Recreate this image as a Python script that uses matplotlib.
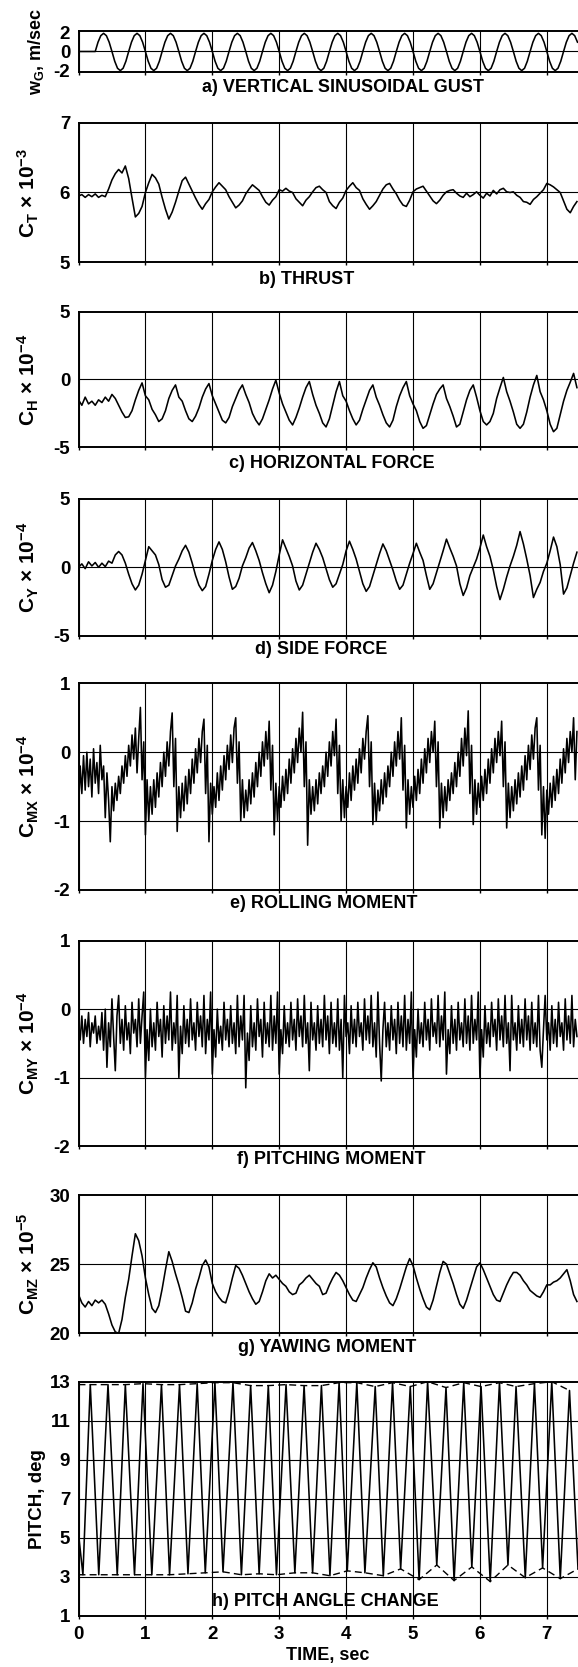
import numpy as np
import matplotlib
matplotlib.use('Agg')
import matplotlib.pyplot as plt

plt.rcParams['font.family'] = ['Liberation Sans', 'DejaVu Sans']
plt.rcParams['font.weight'] = 'bold'
plt.rcParams['font.size'] = 13
plt.rcParams['axes.unicode_minus'] = False
plt.rcParams['mathtext.fontset'] = 'custom'
plt.rcParams['mathtext.rm'] = 'Liberation Sans:bold'
plt.rcParams['mathtext.it'] = 'Liberation Sans:bold'
plt.rcParams['mathtext.bf'] = 'Liberation Sans:bold'
plt.rcParams['mathtext.sf'] = 'Liberation Sans:bold'

# ---- data ----

# a) gust, sampled every 1/24 s
GUST_DT = 1 / 24
GUST = [0, 0, 0, 0, 0, 0,
        0, 1.0, 1.7, 1.95, 1.7, 1.0, 0, -1.05, -1.8, -2.05, -1.8, -1.05,
        0, 1.0, 1.7, 1.95, 1.7, 1.0, 0, -1.05, -1.8, -2.05, -1.8, -1.05,
        0, 1.0, 1.7, 1.95, 1.7, 1.0, 0, -1.05, -1.8, -2.05, -1.8, -1.05,
        0, 1.0, 1.7, 1.95, 1.7, 1.0, 0, -1.05, -1.8, -2.05, -1.8, -1.05,
        0, 1.0, 1.7, 1.95, 1.7, 1.0, 0, -1.05, -1.8, -2.05, -1.8, -1.05,
        0, 1.0, 1.7, 1.95, 1.7, 1.0, 0, -1.05, -1.8, -2.05, -1.8, -1.05,
        0, 1.0, 1.7, 1.95, 1.7, 1.0, 0, -1.05, -1.8, -2.05, -1.8, -1.05,
        0, 1.0, 1.7, 1.95, 1.7, 1.0, 0, -1.05, -1.8, -2.05, -1.8, -1.05,
        0, 1.0, 1.7, 1.95, 1.7, 1.0, 0, -1.05, -1.8, -2.05, -1.8, -1.05,
        0, 1.0, 1.7, 1.95, 1.7, 1.0, 0, -1.05, -1.8, -2.05, -1.8, -1.05,
        0, 1.0, 1.7, 1.95, 1.7, 1.0, 0, -1.05, -1.8, -2.05, -1.8, -1.05,
        0, 1.0, 1.7, 1.95, 1.7, 1.0, 0, -1.05, -1.8, -2.05, -1.8, -1.05,
        0, 1.0, 1.7, 1.95, 1.7, 1.0, 0, -1.05, -1.8, -2.05, -1.8, -1.05,
        0, 1.0, 1.7, 1.95, 1.7, 1.0, 0, -1.05, -1.8, -2.05, -1.8, -1.05,
        0, 1.0, 1.7, 1.95, 1.7, 1.0]

# b) thrust, every 0.05 s
THRUST_DT = 0.05
THRUST = [5.95, 5.97, 5.93, 5.97, 5.94, 5.98, 5.93, 5.96, 5.94, 6.05,
          6.18, 6.27, 6.33, 6.28, 6.38, 6.20, 5.92, 5.65, 5.70, 5.80,
          6.00, 6.14, 6.26, 6.21, 6.12, 5.93, 5.76, 5.62, 5.72, 5.86,
          6.02, 6.17, 6.22, 6.12, 6.02, 5.92, 5.83, 5.76, 5.84, 5.90,
          6.01, 6.08, 6.14, 6.09, 6.04, 5.94, 5.86, 5.78, 5.82, 5.88,
          5.98, 6.05, 6.11, 6.07, 6.03, 5.94, 5.86, 5.82, 5.89, 5.94,
          6.04, 6.02, 6.06, 6.02, 6.00, 5.91, 5.86, 5.81, 5.89, 5.94,
          6.01, 6.07, 6.09, 6.04, 6.00, 5.87, 5.81, 5.77, 5.86, 5.92,
          6.03, 6.09, 6.14, 6.07, 6.03, 5.91, 5.83, 5.76, 5.81, 5.87,
          5.96, 6.05, 6.11, 6.13, 6.05, 5.98, 5.89, 5.82, 5.80, 5.89,
          6.01, 6.05, 6.07, 6.09, 6.02, 5.95, 5.88, 5.84, 5.89, 5.96,
          6.01, 6.03, 6.04, 5.99, 5.95, 5.93, 5.99, 5.94, 5.97, 6.01,
          5.96, 5.92, 5.99, 5.95, 6.03, 5.98, 6.04, 6.06, 6.01, 6.00,
          6.01, 5.96, 5.93, 5.87, 5.86, 5.83, 5.90, 5.94, 5.99, 6.04,
          6.13, 6.11, 6.08, 6.04, 6.00, 5.88, 5.76, 5.71, 5.80, 5.87]

# c) horizontal force, every 0.05 s
HFORCE_DT = 0.05
HFORCE = [-1.5, -1.9, -1.3, -1.8, -1.6, -1.9, -1.5, -1.7, -1.3, -1.6,
          -1.1, -1.4, -1.9, -2.4, -2.8, -2.75, -2.3, -1.5, -0.8, -0.25,
          -1.2, -1.5, -2.2, -2.6, -3.1, -2.9, -2.3, -1.4, -0.8, -0.4,
          -1.3, -1.6, -2.3, -2.9, -3.1, -2.7, -2.1, -1.3, -0.7, -0.3,
          -1.2, -1.8, -2.4, -3.0, -3.2, -2.8, -2.0, -1.4, -0.8, -0.4,
          -1.1, -1.7, -2.5, -3.0, -3.35, -2.9, -2.2, -1.5, -0.7, -0.05,
          -1.0, -1.8, -2.4, -3.0, -3.35, -2.8, -2.1, -1.3, -0.6, -0.15,
          -1.1, -1.9, -2.5, -3.2, -3.5, -2.9, -1.9, -0.9, -0.15,
          -1.2, -1.6, -2.3, -2.9, -3.35, -3.0, -2.2, -1.5, -0.8, -0.4,
          -1.3, -1.9, -2.6, -3.2, -3.5, -3.0, -2.0, -1.2, -0.6, -0.15,
          -1.2, -1.8, -2.3, -3.1, -3.6, -3.4, -2.6, -1.8, -1.1, -0.7, -0.4,
          -1.4, -2.0, -2.7, -3.5, -3.3, -2.4, -1.5, -0.8, -0.4,
          -1.3, -2.3, -3.1, -3.35, -3.1, -2.5, -1.4, -0.6, 0.15,
          -0.9, -1.6, -2.4, -3.3, -3.6, -3.3, -2.4, -1.3, -0.4, 0.3,
          -0.9, -1.5, -2.3, -3.3, -3.85, -3.6, -2.6, -1.6, -0.8, -0.2, 0.45,
          -0.6]

# d) side force, every 0.05 s
SFORCE_DT = 0.05
SFORCE = [0.0, 0.25, -0.1, 0.4, 0.1, 0.35, 0.0, 0.3, 0.05, 0.45,
          0.3, 0.9, 1.15, 0.9, 0.3, -0.5, -1.2, -1.65, -1.3, -0.5,
          0.5, 1.5, 1.2, 0.9, 0.2, -0.9, -1.45, -1.3, -0.6, 0.1,
          0.6, 1.2, 1.6, 1.1, 0.3, -0.6, -1.3, -1.7, -1.4, -0.5,
          0.5, 1.3, 1.85, 1.3, 0.4, -0.7, -1.6, -1.4, -0.8, 0.1,
          0.7, 1.4, 1.8, 1.2, 0.5, -0.4, -1.2, -1.85, -1.3, -0.3,
          0.9, 2.0, 1.4, 0.8, 0.1, -1.0, -1.65, -1.3, -0.5, 0.3,
          1.1, 1.75, 1.3, 0.7, -0.1, -0.9, -1.45, -1.2, -0.5, 0.2,
          1.2, 1.9, 1.3, 0.6, -0.3, -1.2, -1.75, -1.4, -0.6, 0.2,
          1.0, 1.7, 1.2, 0.5, -0.2, -1.0, -1.6, -1.3, -0.5, 0.3,
          1.0, 1.75, 1.1, 0.5, -0.6, -1.6, -1.2, -0.4, 0.4, 1.2,
          2.05, 1.4, 0.8, 0.1, -1.2, -2.05, -1.5, -0.6, 0.0, 0.6,
          1.4, 2.35, 1.5, 0.8, -0.2, -1.4, -2.35, -1.6, -0.7, 0.1,
          0.8, 1.6, 2.6, 1.7, 0.6, -0.6, -2.2, -1.6, -1.1, -0.3,
          0.3, 1.2, 2.2, 1.5, 0.2, -1.95, -1.5, -0.6, 0.3, 1.1]

# e) rolling moment, every 0.025 s
ROLL_DT = 0.025
ROLL = [-0.85, -0.2, -0.6, -0.05, -0.55, 0.0, -0.5, -0.1, -0.65, 0.05,
        -0.45, -0.15, -0.6, 0.1, -0.4, -0.2, -0.95, -0.3, -0.7, -1.3,
        -0.5, -0.85, -0.45, -0.7, -0.35, -0.6, -0.2, -0.45, -0.05, -0.35,
        0.1, -0.2, 0.25, -0.1, 0.35, -0.3, 0.2, 0.65,
        -0.4, 0.15, -1.2, -0.4, -1.0, -0.5, -0.9, -0.4, -0.8, -0.3,
        -0.65, -0.15, -0.5, 0.0, -0.35, 0.15, -0.2, 0.3, 0.57,
        -0.5, 0.2, -1.15, -0.5, -0.95, -0.45, -0.85, -0.35, -0.75, -0.25,
        -0.6, -0.1, -0.45, 0.05, -0.3, 0.2, -0.15, 0.3, 0.48,
        -0.6, 0.1, -1.3, -0.45, -0.9, -0.5, -0.8, -0.3, -0.7, -0.2,
        -0.55, -0.05, -0.4, 0.1, -0.25, 0.25, -0.15, 0.35, 0.5,
        -0.45, 0.15, -1.0, -0.4, -0.95, -0.55, -0.85, -0.4, -0.75, -0.3,
        -0.65, -0.15, -0.5, 0.0, -0.35, 0.15, -0.2, 0.3, -0.1, 0.45,
        -0.55, 0.1, -1.2, -0.45, -1.0, -0.5, -0.8, -0.35, -0.7, -0.25,
        -0.6, -0.1, -0.45, 0.05, -0.3, 0.2, -0.15, 0.35, 0.0, 0.58,
        -0.5, 0.15, -1.35, -0.4, -0.9, -0.5, -0.85, -0.4, -0.75, -0.3,
        -0.6, -0.2, -0.5, 0.0, -0.35, 0.15, -0.2, 0.3, -0.05, 0.48,
        -0.6, 0.1, -1.0, -0.4, -0.95, -0.5, -0.8, -0.3, -0.7, -0.2,
        -0.55, -0.1, -0.45, 0.05, -0.3, 0.2, -0.1, 0.3, 0.53,
        -0.5, 0.15, -1.05, -0.45, -1.0, -0.55, -0.85, -0.4, -0.75, -0.3,
        -0.65, -0.2, -0.5, 0.0, -0.35, 0.15, -0.2, 0.3, -0.1, 0.5,
        -0.55, 0.1, -1.1, -0.4, -0.9, -0.5, -0.8, -0.35, -0.7, -0.25,
        -0.6, -0.1, -0.45, 0.05, -0.3, 0.2, -0.15, 0.3, 0.0, 0.45,
        -0.5, 0.15, -1.1, -0.45, -0.95, -0.5, -0.85, -0.4, -0.7, -0.3,
        -0.6, -0.15, -0.5, 0.0, -0.35, 0.2, -0.2, 0.35, -0.05, 0.6,
        -0.6, 0.1, -1.05, -0.4, -0.9, -0.45, -0.8, -0.35, -0.7, -0.25,
        -0.6, -0.1, -0.45, 0.05, -0.3, 0.2, -0.15, 0.3, -0.05, 0.45,
        -0.5, 0.15, -1.1, -0.45, -0.95, -0.5, -0.85, -0.4, -0.75, -0.3,
        -0.65, -0.2, -0.55, -0.05, -0.4, 0.1, -0.25, 0.25, -0.1, 0.35, 0.5,
        -0.55, 0.1, -1.2, -0.5, -1.25, -0.55, -0.9, -0.45, -0.8, -0.35,
        -0.7, -0.25, -0.6, -0.1, -0.45, 0.05, -0.3, 0.2, -0.15, 0.3, 0.0, 0.5,
        -0.4, 0.3]

# f) pitching moment, every 0.025 s
PITCHM_DT = 0.025
PITCHM = [-0.2, -0.45, -0.1, -0.5, -0.15, -0.4, -0.05, -0.55, -0.2, -0.35,
          -0.1, -0.5, -0.25, -0.45, -0.05, -0.6, 0.0, -0.85, -0.2, -0.55,
          0.15, -0.4, -0.9, -0.1, 0.2, -0.5, -0.15, -0.6, 0.05, -0.45,
          -0.2, -0.65, 0.1, -0.35, -0.15, -0.55, 0.15, -0.5, -0.1, 0.25,
          -1.0, -0.3, -0.75, 0.0, -0.55, -0.2, -0.6, 0.1, -0.4, -0.15,
          -0.7, 0.05, -0.5, -0.1, -0.45, 0.25, -0.6, -0.2, -0.5, 0.2,
          -1.0, -0.25, -0.65, 0.05, -0.5, -0.15, -0.55, 0.15, -0.45, -0.2,
          -0.6, 0.1, -0.4, -0.1, -0.55, 0.2, -0.65, -0.15, -0.45, 0.25,
          -0.95, -0.3, -0.7, 0.0, -0.5, -0.25, -0.6, 0.1, -0.45, -0.15,
          -0.55, 0.05, -0.5, -0.2, -0.65, 0.2, -0.55, -0.1, -0.45, 0.2,
          -1.15, -0.35, -0.75, 0.05, -0.55, -0.2, -0.6, 0.15, -0.4, -0.15,
          -0.7, 0.1, -0.5, -0.2, -0.55, 0.2, -0.6, -0.1, -0.5, 0.25,
          -0.95, -0.3, -0.65, 0.05, -0.5, -0.2, -0.55, 0.1, -0.45, -0.15,
          -0.6, 0.15, -0.4, -0.1, -0.55, 0.2, -0.5, -0.2, -0.9, 0.1,
          -0.45, -0.2, -0.6, 0.05, -0.5, -0.15, -0.55, 0.2, -0.45, -0.1,
          -0.65, 0.1, -0.5, -0.2, -0.55, 0.15, -0.6, -0.15, -1.0, 0.2,
          -0.4, -0.2, -0.65, 0.05, -0.5, -0.15, -0.55, 0.1, -0.4, -0.2,
          -0.6, 0.15, -0.45, -0.1, -0.5, 0.2, -0.55, -0.2, -0.7, 0.25,
          -0.5, -1.05, -0.3, 0.1, -0.55, -0.2, -0.6, 0.05, -0.45, -0.15,
          -0.65, 0.1, -0.5, -0.1, -0.55, 0.2, -0.6, -0.15, -0.5, 0.25,
          -1.0, -0.3, -0.7, 0.0, -0.5, -0.2, -0.55, 0.1, -0.45, -0.15,
          -0.6, 0.15, -0.4, -0.2, -0.5, 0.2, -0.55, -0.1, -0.45, 0.25,
          -0.95, -0.3, -0.65, 0.05, -0.5, -0.15, -0.6, 0.1, -0.45, -0.2,
          -0.55, 0.15, -0.5, -0.1, -0.6, 0.2, -0.5, -0.15, -0.45, 0.25,
          -1.0, -0.3, -0.7, 0.05, -0.5, -0.2, -0.55, 0.1, -0.4, -0.15,
          -0.6, 0.15, -0.45, -0.1, -0.55, 0.2, -0.5, -0.2, -0.9, 0.2,
          -0.45, -0.2, -0.6, 0.05, -0.5, -0.15, -0.55, 0.15, -0.45, -0.1,
          -0.6, 0.1, -0.5, -0.2, -0.55, 0.2, -0.6, -0.85, -0.3, 0.2,
          -0.45, -0.2, -0.6, 0.05, -0.5, -0.15, -0.55, 0.1, -0.4, -0.2,
          -0.6, 0.15, -0.45, -0.1, -0.5, 0.2, -0.55, -0.15, -0.4]

# g) yawing moment, every 0.05 s
YAW_DT = 0.05
YAW = [22.8, 22.2, 21.9, 22.3, 22.0, 22.4, 22.2, 22.4, 22.1, 21.4,
       20.6, 20.1, 20.0, 21.0, 22.6, 23.9, 25.6, 27.2, 26.7, 25.6,
       24.0, 22.8, 21.8, 21.5, 22.0, 23.2, 24.6, 25.9, 25.2, 24.3,
       23.5, 22.6, 21.6, 21.5, 22.2, 23.2, 24.0, 24.9, 25.3, 24.8,
       23.6, 23.0, 22.6, 22.3, 22.2, 23.0, 24.0, 24.9, 24.7, 24.2,
       23.6, 23.0, 22.5, 22.1, 22.3, 23.0, 23.8, 24.3, 24.0, 24.2,
       23.9, 23.6, 23.4, 23.0, 22.8, 22.9, 23.5, 23.7, 24.0, 24.2,
       23.9, 23.6, 23.4, 22.8, 22.9, 23.5, 24.0, 24.4, 24.2, 23.8,
       23.3, 22.8, 22.4, 22.3, 22.8, 23.3, 24.0, 24.6, 25.1, 24.8,
       24.0, 23.3, 22.7, 22.2, 22.0, 22.5, 23.2, 24.0, 24.8, 25.4,
       24.9, 24.0, 23.2, 22.5, 21.9, 21.7, 22.4, 23.4, 24.4, 25.2,
       25.0, 24.3, 23.6, 22.8, 22.1, 21.8, 22.4, 23.2, 24.0, 24.8,
       25.1, 24.6, 24.0, 23.4, 22.8, 22.4, 22.3, 22.9, 23.5, 24.0,
       24.4, 24.4, 24.2, 23.8, 23.5, 23.1, 22.9, 22.7, 22.6, 23.0,
       23.5, 23.5, 23.7, 23.8, 24.0, 24.3, 24.6, 23.8, 22.8, 22.3]

# h) pitch angle: alternating turning points of the trace
PITCH_START = (0.0, 5.2)
TOP_T = [0.176, 0.441, 0.700, 0.964, 1.240, 1.510, 1.774, 2.039, 2.309, 2.573,
         2.837, 3.102, 3.372, 3.631, 3.895, 4.160, 4.435, 4.694, 4.959, 5.218,
         5.493, 5.758, 6.017, 6.292, 6.540, 6.815, 7.074, 7.339]
TOP_V = [12.85, 12.85, 12.85, 12.9, 12.85, 12.85, 12.9, 12.95, 12.95, 12.8,
         12.8, 12.85, 12.8, 12.8, 12.95, 12.95, 12.75, 12.95, 12.75, 13.0,
         12.7, 12.95, 12.75, 12.95, 12.75, 12.9, 13.0, 12.55]
BOT_T = [0.066, 0.303, 0.579, 0.837, 1.096, 1.361, 1.636, 1.895, 2.160, 2.435,
         2.700, 2.959, 3.234, 3.499, 3.758, 4.017, 4.281, 4.556, 4.815, 5.091,
         5.355, 5.614, 5.879, 6.154, 6.419, 6.678, 6.937, 7.201, 7.466]
BOT_V = [3.1, 3.1, 3.1, 3.1, 3.1, 3.1, 3.15, 3.2, 3.25, 3.1,
         3.15, 3.1, 3.2, 3.2, 3.05, 3.3, 3.2, 3.05, 3.4, 2.85,
         3.6, 2.8, 3.5, 2.75, 3.6, 2.95, 3.45, 2.9, 3.4]

# ---- layout (pixels of the 578 x 1667 page) ----
W, H = 578, 1667
X0 = 78.5          # left frame edge
T_MAX = 7.466      # seconds visible up to the right edge of the page
LW = 1.15

fig = plt.figure(figsize=(W / 100, H / 100), dpi=100)


def add_panel(top, bottom, ylim, yticks, ygrid, ylabel, ylab_x, ylab_size,
              title, title_x, title_y, last=False):
    ax = fig.add_axes([X0 / W, 1 - bottom / H, 1 - X0 / W, (bottom - top) / H])
    ax.set_xlim(0, T_MAX)
    ax.set_ylim(*ylim)
    ax.set_xticks(range(0, 8))
    ax.set_yticks(yticks)
    ax.grid(True, axis='x', color='black', linewidth=0.8)
    for y in ygrid:
        ax.axhline(y, color='black', linewidth=0.8, zorder=1)
    for side in ['left', 'top', 'bottom']:
        ax.spines[side].set_linewidth(1.4)
    ax.spines['right'].set_visible(False)
    ax.tick_params(axis='y', length=0, pad=6, labelsize=13.5)
    ax.tick_params(axis='x', length=2.2, width=1, direction='out', pad=5, labelsize=13.5,
                   labelbottom=last)
    fig.text(ylab_x / W, 1 - (top + bottom) / 2 / H, ylabel, rotation=90,
             ha='center', va='center', fontsize=ylab_size, fontweight='bold')
    if title:
        fig.text(title_x / W, 1 - title_y / H, title, ha='center', va='center',
                 fontsize=13, fontweight='bold')
    return ax


def t_axis(vals, dt):
    return np.arange(len(vals)) * dt


ax = add_panel(31, 72, (-2.2, 2.2), [-2, 0, 2], [0], r'$\mathrm{w_G}$, m/sec', 36, 13,
               'a) VERTICAL SINUSOIDAL GUST', 343, 88)
ax.plot(t_axis(GUST, GUST_DT), GUST, color='black', lw=LW)

ax = add_panel(122.7, 262.3, (5, 7), [5, 6, 7], [6], r'$\mathrm{C_T}$ × $\mathrm{10^{-3}}$', 28, 15,
               'b) THRUST', 307, 280)
ax.plot(t_axis(THRUST, THRUST_DT), THRUST, color='black', lw=LW)

ax = add_panel(311.7, 447.3, (-5, 5), [-5, 0, 5], [0], r'$\mathrm{C_H}$ × $\mathrm{10^{-4}}$', 28, 15,
               'c) HORIZONTAL FORCE', 332, 463)
ax.plot(t_axis(HFORCE, HFORCE_DT), HFORCE, color='black', lw=LW)

ax = add_panel(498.6, 636, (-5, 5), [-5, 0, 5], [0], r'$\mathrm{C_Y}$ × $\mathrm{10^{-4}}$', 28, 15,
               'd) SIDE FORCE', 321, 650)
ax.plot(t_axis(SFORCE, SFORCE_DT), SFORCE, color='black', lw=LW)

ax = add_panel(683.3, 890, (-2, 1), [-2, -1, 0, 1], [-1, 0],
               r'$\mathrm{C_{MX}}$ × $\mathrm{10^{-4}}$', 28, 15,
               'e) ROLLING MOMENT', 324, 903)
ax.plot(t_axis(ROLL, ROLL_DT), ROLL, color='black', lw=LW)

ax = add_panel(940.7, 1146, (-2, 1), [-2, -1, 0, 1], [-1, 0],
               r'$\mathrm{C_{MY}}$ × $\mathrm{10^{-4}}$', 28, 15,
               'f) PITCHING MOMENT', 331, 1159)
ax.plot(t_axis(PITCHM, PITCHM_DT), PITCHM, color='black', lw=LW)

ax = add_panel(1195, 1333.3, (20, 30), [20, 25, 30], [25],
               r'$\mathrm{C_{MZ}}$ × $\mathrm{10^{-5}}$', 28, 15,
               'g) YAWING MOMENT', 327, 1347)
ax.plot(t_axis(YAW, YAW_DT), YAW, color='black', lw=LW)

ax = add_panel(1381.7, 1615.7, (1, 13), [1, 3, 5, 7, 9, 11, 13], [3, 5, 7, 9, 11],
               'PITCH, deg', 37, 13.5, None, 0, 0, last=True)
# trace goes bottom -> top -> bottom ... through the turning points
pts = [PITCH_START] + sorted(list(zip(TOP_T, TOP_V)) + list(zip(BOT_T, BOT_V)))
ax.plot([p[0] for p in pts], [p[1] for p in pts], color='black', lw=LW)
# dashed envelopes through the peaks and through the valleys
ax.plot([0.0] + TOP_T, [TOP_V[0]] + TOP_V, color='black', lw=1.0, ls=(0, (5, 3)))
ax.plot([0.0] + BOT_T, [BOT_V[0]] + BOT_V, color='black', lw=1.0, ls=(0, (5, 3)))
fig.text(325.5 / W, 1 - 1601.7 / H, 'h) PITCH ANGLE CHANGE',
         ha='center', va='center', fontsize=13, fontweight='bold')
fig.text(328 / W, 1 - 1655 / H, 'TIME, sec', ha='center', va='center',
         fontsize=13, fontweight='bold')

fig.savefig('out.png', dpi=100, facecolor='white')
